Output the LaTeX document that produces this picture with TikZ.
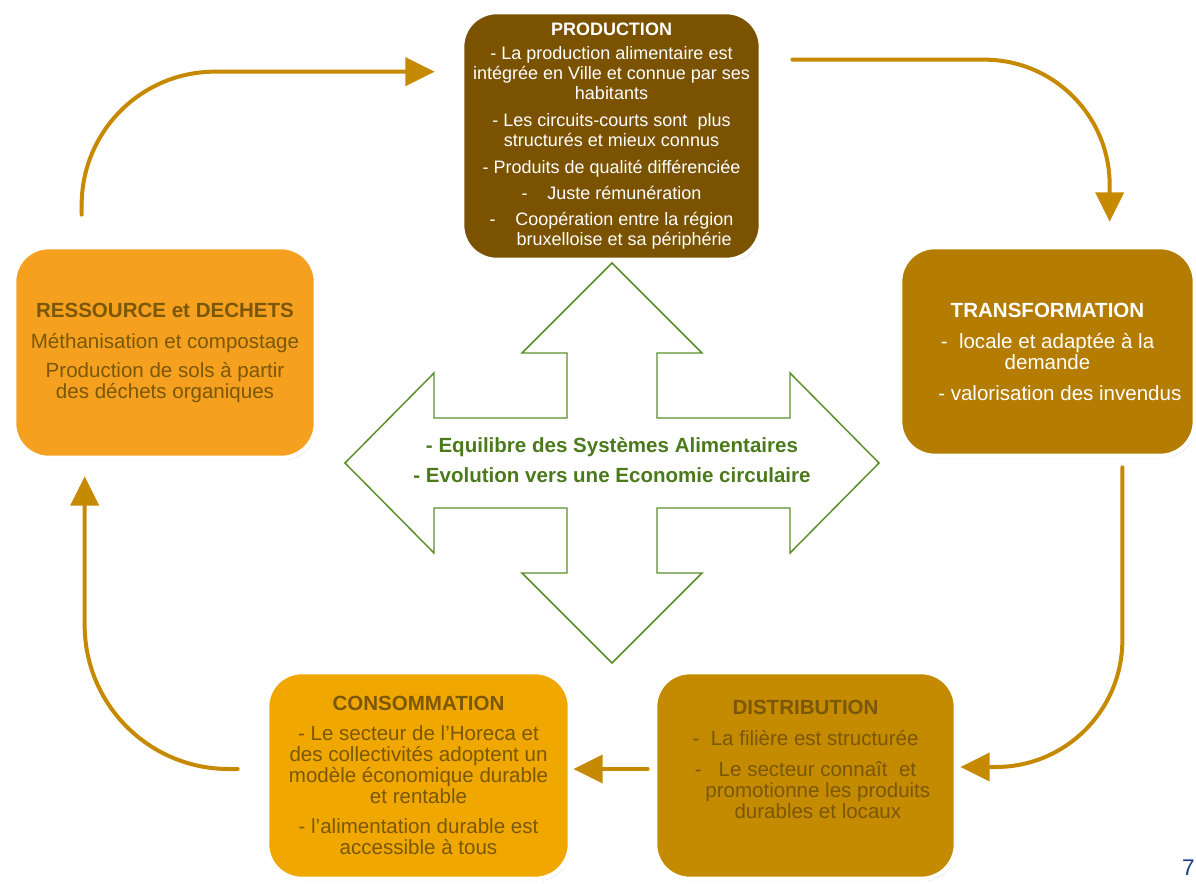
\documentclass[tikz,border=0pt]{standalone}
\usepackage{fontspec}
\setmainfont{Liberation Sans}
\usetikzlibrary{arrows.meta,shadows}

\definecolor{prodbrown}{HTML}{7A5200}
\definecolor{resorange}{HTML}{F5A11F}
\definecolor{transgold}{HTML}{B47C00}
\definecolor{consyellow}{HTML}{F0A800}
\definecolor{distgold}{HTML}{C48A00}
\definecolor{darkbrown}{HTML}{7B5708}
\definecolor{flowgold}{HTML}{C68A00}
\definecolor{hubgreen}{HTML}{5A8F2A}
\definecolor{hubtextgreen}{HTML}{4B7A1C}
\definecolor{pageblue}{HTML}{1F3C88}

\newcommand{\bodyfont}{\fontsize{15.4}{15.75}\selectfont}
\newcommand{\prodfont}{\fontsize{13.5}{15}\selectfont}

\begin{document}
\begin{tikzpicture}[x=0.75pt, y=-0.75pt,
    stage/.style={rectangle, rounded corners=26pt, draw=white, line width=3.5pt,
      inner sep=0pt, align=center, font=\bodyfont,
      drop shadow={shadow xshift=1pt, shadow yshift=-1.5pt, fill=black, opacity=0.3}},
    flow/.style={draw=flowgold, line width=3pt, line cap=round,
      -{Triangle[length=22pt, width=21pt]}},
    hubline/.style={draw=hubgreen, line width=1.1pt, fill=white},
    hubtext/.style={align=center, text=hubtextgreen,
      font=\fontsize{15.4}{22.5}\selectfont\bfseries}]

    \path[use as bounding box, fill=white] (0,0) rectangle (1196,884);

    \node[stage, fill=prodbrown, text=white, font=\prodfont,
      minimum width=224.25pt, minimum height=186pt] (prod) at (611.5,136)
      {\textbf{PRODUCTION}\\[3pt]
       - La production alimentaire est\\
       intégrée en Ville et connue par ses\\
       habitants\\[5pt]
       - Les circuits-courts sont\ \ plus\\
       structurés et mieux connus\\[5pt]
       - Produits de qualité différenciée\\[4.5pt]
       -\hspace{1.1em}Juste rémunération\\[4.5pt]
       -\hspace{1.1em}Coopération entre la région\\
       \hspace*{1.4em}bruxelloise et sa périphérie};

    \node[stage, fill=resorange, text=darkbrown,
      minimum width=226.5pt, minimum height=158.25pt] (res) at (165,352.5)
      {\textbf{RESSOURCE et DECHETS}\\[7.5pt]
       Méthanisation et compostage\\[6pt]
       Production de sols à partir\\
       des déchets organiques};

    \node[stage, fill=transgold, text=white,
      minimum width=221.25pt, minimum height=156.75pt] (trans) at (1047.5,351.5)
      {\textbf{TRANSFORMATION}\\[7.5pt]
       -\ \ locale et adaptée à la\\
       demande\\[7.5pt]
       \hspace*{1.2em}- valorisation des invendus};

    \node[stage, fill=consyellow, text=darkbrown,
      minimum width=227.25pt, minimum height=155.25pt] (cons) at (418.5,775.5)
      {\textbf{CONSOMMATION}\\[6.5pt]
       - Le secteur de l’Horeca et\\
       des collectivités adoptent un\\
       modèle économique durable\\
       et rentable\\[7pt]
       - l’alimentation durable est\\
       accessible à tous};

    \node[stage, fill=distgold, text=darkbrown,
      minimum width=225.75pt, minimum height=155.25pt] (dist) at (805.5,775.5)
      {\textbf{DISTRIBUTION}\\[7.5pt]
       -\ \ La filière est structurée\\[7.5pt]
       -\ \ \ Le secteur connaît\ \ et\\
       \hspace*{1.2em}promotionne les produits\\
       \hspace*{1.2em}durables et locaux\\[8pt]
       \mbox{}};

    \draw[hubline, shift={(612,463)}] (0,-200) -- (90,-110) -- (45,-110) -- (45,-45)
      -- (178,-45) -- (178,-90) -- (267,0) -- (178,90) -- (178,45) -- (45,45)
      -- (45,110) -- (90,110) -- (0,200) -- (-90,110) -- (-45,110) -- (-45,45)
      -- (-178,45) -- (-178,90) -- (-267,0) -- (-178,-90) -- (-178,-45) -- (-45,-45)
      -- (-45,-110) -- (-90,-110) -- cycle;
    \node[hubtext] (goal) at (612,460)
      {- Equilibre des Systèmes Alimentaires\\
       - Evolution vers une Economie circulaire};

    \draw[flow, rounded corners=100pt] ([shift={(70,-30)}]res.north west)
      |- ([shift={(-25,62)}]prod.north west);
    \draw[flow, rounded corners=94pt] ([shift={(29,50)}]prod.north east)
      -| ([shift={(212,-23)}]trans.north west);
    \draw[flow, rounded corners=95pt] ([shift={(-75,9)}]trans.south east)
      |- ([shift={(2,-8.5)}]dist.east);
    \draw[flow] ([shift={(-5,-6.5)}]dist.west) -- ([shift={(1,-6.5)}]cons.east);
    \draw[flow, rounded corners=108pt] ([shift={(-27,-6.5)}]cons.west)
      -| ([shift={(73,16)}]res.south west);

    \node[anchor=north east, inner sep=0pt, text=pageblue,
      font=\fontsize{17}{17}\selectfont] (pnum) at (1195,860) {7};

  \end{tikzpicture}
\end{document}
